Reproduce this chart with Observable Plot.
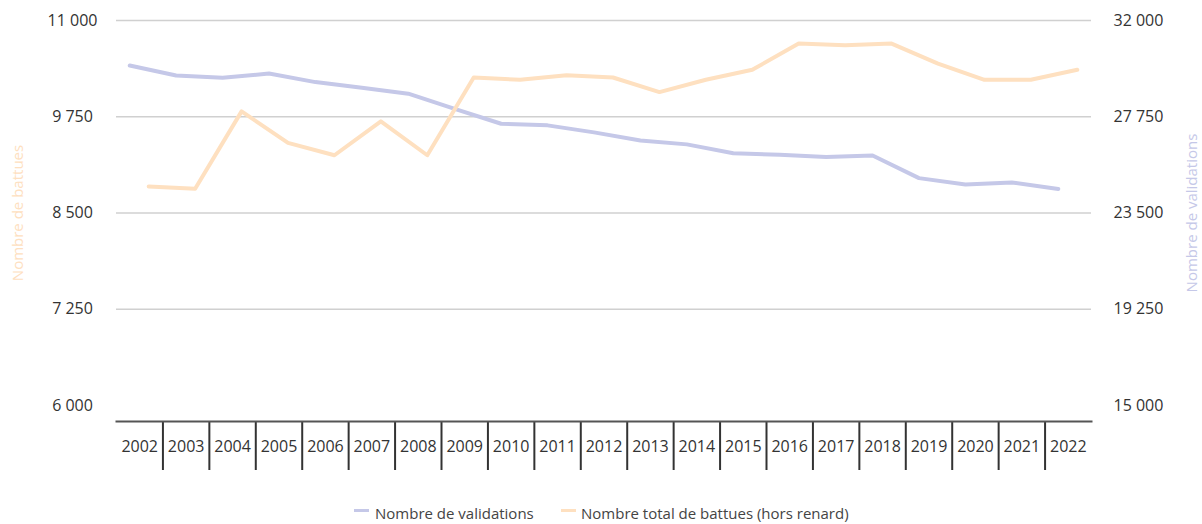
<!DOCTYPE html>
<html>
<head>
<meta charset="utf-8">
<script src="https://cdn.jsdelivr.net/npm/d3@7"></script>
<script src="https://cdn.jsdelivr.net/npm/@observablehq/plot@0.6"></script>
<style>
  body { margin: 0; background: #fff; font-family: "Open Sans", sans-serif; }
  #legend { position: relative; height: 29px; font-size: 15px; color: #444; }
  .item { position: absolute; top: 9px; line-height: 18px; white-space: nowrap; }
  .sw { position: absolute; top: 14px; width: 15px; height: 3px; }
</style>
</head>
<body>
<div id="chart"></div>
<div id="legend">
  <span class="sw" style="left:354px;background:#c5c8e8"></span>
  <span class="item" style="left:375px">Nombre de validations</span>
  <span class="sw" style="left:561px;background:#fee0c0"></span>
  <span class="item" style="left:581px">Nombre total de battues (hors renard)</span>
</div>
<script>
const years = ["2002","2003","2004","2005","2006","2007","2008","2009","2010","2011","2012","2013","2014","2015","2016","2017","2018","2019","2020","2021","2022"];
const validations = [30010, 29570, 29470, 29660, 29280, 29030, 28770, 28100, 27440, 27370, 27060, 26700, 26530, 26140, 26070, 25970, 26040, 25040, 24760, 24850, 24560];
const battues = [8845, 8815, 9820, 9410, 9250, 9690, 9250, 10260, 10230, 10290, 10260, 10070, 10230, 10360, 10700, 10680, 10700, 10440, 10230, 10230, 10360];
const leftTicks = [6000, 7250, 8500, 9750, 11000];
const rightTicks = [15000, 19250, 23500, 27750, 32000];

// map right axis (validations) onto the left scale
const toLeft = v => 6000 + (v - 15000) * (11000 - 6000) / (32000 - 15000);
const fmt = d3.formatLocale({thousands: "\u00a0", grouping: [3], decimal: ","}).format(",");

const valData = years.map((y, i) => ({year: y, value: toLeft(validations[i])}));
const batData = years.map((y, i) => ({year: y, value: battues[i]}));

const chart = Plot.plot({
  width: 1202,
  height: 495,
  marginTop: 20,
  marginBottom: 74,
  marginLeft: 116,
  marginRight: 111,
  insetBottom: 16,
  style: {fontFamily: "Open Sans, sans-serif", fontSize: "15px", color: "#333", background: "#fff"},
  x: {type: "band", domain: years, padding: 0, round: false},
  y: {domain: [6000, 11000]},
  marks: [
    Plot.ruleY(leftTicks.slice(1), {stroke: "#d0d0d0", strokeWidth: 1.6}),
    Plot.axisY({anchor: "left", ticks: leftTicks, tickSize: 0, tickPadding: 44, textAnchor: "middle", tickFormat: fmt, label: null, fontSize: 16, fill: "#333"}),
    Plot.axisY({anchor: "right", ticks: leftTicks, tickSize: 0, tickPadding: 22, textAnchor: "start", tickFormat: (d, i) => fmt(rightTicks[i]), label: null, fontSize: 16, fill: "#333"}),
    Plot.text(["Nombre de battues"], {y: () => 8500, frameAnchor: "left", textAnchor: "middle", dx: -98.5, rotate: -90, fill: "#fee0c0", fontSize: 15}),
    Plot.text(["Nombre de validations"], {y: () => 8500, frameAnchor: "right", textAnchor: "middle", dx: 100.5, rotate: -90, fill: "#c5c8e8", fontSize: 15}),
    Plot.axisX({anchor: "bottom", ticks: years.slice(1), tickSize: 49, text: null, dx: -975 / 42, stroke: "#333", strokeWidth: 2, label: null}),
    Plot.axisX({anchor: "bottom", tickSize: 0, tickPadding: 19, fontSize: 16, fill: "#333", label: null}),
    Plot.frame({anchor: "bottom", stroke: "#555", strokeWidth: 2}),
    Plot.line(valData, {x: "year", y: "value", stroke: "#c5c8e8", strokeWidth: 4, dx: -10}),
    Plot.line(batData, {x: "year", y: "value", stroke: "#fee0c0", strokeWidth: 4, dx: 9})
  ]
});
document.getElementById("chart").append(chart);
</script>
</body>
</html>
